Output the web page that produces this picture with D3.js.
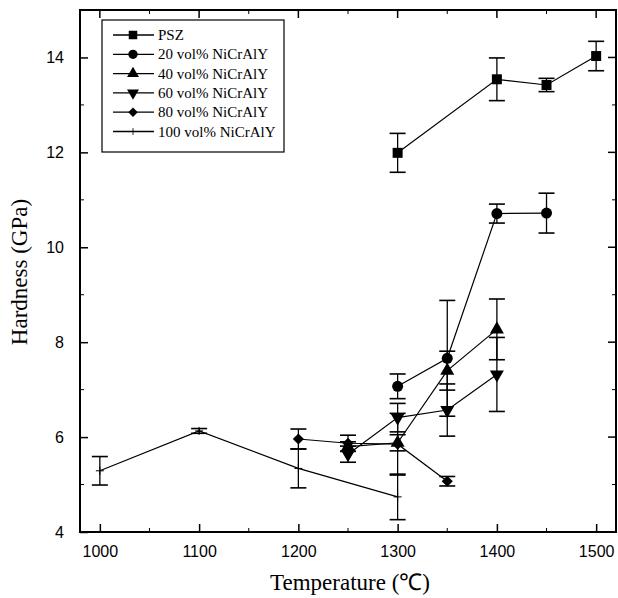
<!DOCTYPE html>
<html>
<head>
<meta charset="utf-8">
<script src="https://cdn.jsdelivr.net/npm/d3@7/dist/d3.min.js"></script>
<style>
  body { margin: 0; background: #fff; }
  svg { display: block; }
</style>
</head>
<body>
<svg id="chart" width="618" height="598"></svg>
<script>
// hardness vs. temperature
const seriesNames = ['PSZ', '20 vol% NiCrAlY', '40 vol% NiCrAlY', '60 vol% NiCrAlY', '80 vol% NiCrAlY', '100 vol% NiCrAlY']
const seriesSymbols = ['square', 'circle', 'triangle', 'triangleDown', 'diamond', 'plus']

const pszTemp = [1300, 1400, 1450, 1500]
const pszHard = [11.99, 13.54, 13.42, 14.03]
const pszErr = [0.41, 0.45, 0.14, 0.31]

const vol20Temp = [1300, 1350, 1400, 1450]
const vol20Hard = [7.07, 7.66, 10.71, 10.72]
const vol20Err = [0.26, 1.22, 0.2, 0.42]

const vol40Temp = [1250, 1300, 1350, 1400]
const vol40Hard = [5.8, 5.88, 7.4, 8.27]
const vol40Err = [0.1, 0.17, 0.41, 0.64]

const vol60Temp = [1250, 1300, 1350, 1400]
const vol60Hard = [5.64, 6.41, 6.57, 7.32]
const vol60Err = [0.17, 0.3, 0.55, 0.78]

const vol80Temp = [1200, 1250, 1300, 1350]
const vol80Hard = [5.96, 5.87, 5.85, 5.07]
const vol80Err = [0.21, 0.17, 0.65, 0.1]

const vol100Temp = [1000, 1100, 1200, 1300]
const vol100Hard = [5.29, 6.13, 5.34, 4.74]
const vol100Err = [0.3, 0.05, 0.41, 0.48]

const xTicks = [1000, 1100, 1200, 1300, 1400, 1500]
const yTicks = [4, 6, 8, 10, 12, 14]

const build = (temp, hard, err) => temp.map((t, i) => ({ t, h: hard[i], e: err[i] }))
const series = [
  build(pszTemp, pszHard, pszErr),
  build(vol20Temp, vol20Hard, vol20Err),
  build(vol40Temp, vol40Hard, vol40Err),
  build(vol60Temp, vol60Hard, vol60Err),
  build(vol80Temp, vol80Hard, vol80Err),
  build(vol100Temp, vol100Hard, vol100Err)
]

const plot = { left: 80, right: 616, top: 10, bottom: 532 }

const x = d3.scaleLinear().domain([980, 1520]).range([plot.left, plot.right])
const y = d3.scaleLinear().domain([4, 15]).range([plot.bottom, plot.top])

const svg = d3.select('#chart')

// marker paths
const symbolPath = (kind) => {
  switch (kind) {
    case 'square': return d3.symbol(d3.symbolSquare, 100)()
    case 'circle': return d3.symbol(d3.symbolCircle, 95)()
    case 'triangle': return d3.symbol(d3.symbolTriangle, 85)()
    case 'triangleDown': return d3.symbol(d3.symbolTriangle, 85)()
    case 'diamond': return d3.symbol(d3.symbolSquare, 62)()
    default: return 'M -4 0 L 4 0 M 0 -4 L 0 4'
  }
}

const drawMarker = (g, kind) => {
  const p = g.append('path').attr('d', symbolPath(kind))
  if (kind === 'plus') {
    p.attr('fill', 'none').attr('stroke', '#000').attr('stroke-width', 1)
  } else {
    p.attr('fill', '#000')
  }
  if (kind === 'triangleDown') p.attr('transform', 'rotate(180)')
  if (kind === 'diamond') p.attr('transform', 'rotate(45) scale(1,1)')
}

// axes (ticks point inward on all four sides)
const xAxisBottom = d3.axisBottom(x).tickValues(xTicks).tickSize(-8).tickPadding(14).tickFormat(d3.format('d'))
const yAxisLeft = d3.axisLeft(y).tickValues(yTicks).tickSize(-8).tickPadding(16)

const gx = svg.append('g').attr('transform', `translate(0,${plot.bottom})`).call(xAxisBottom)
const gy = svg.append('g').attr('transform', `translate(${plot.left},0)`).call(yAxisLeft)

;[gx, gy].forEach((g) => {
  g.select('.domain').remove()
  g.selectAll('.tick line').attr('stroke', '#000').attr('stroke-width', 1.5)
  g.selectAll('.tick text')
    .attr('font-family', 'Liberation Sans, Arial, sans-serif')
    .attr('font-size', 16)
    .attr('fill', '#000')
})

const minorX = d3.range(1050, 1520, 100)
const minorY = d3.range(5, 15, 2)
const frame = svg.append('g').attr('stroke', '#000')

// top and right mirror ticks
frame.selectAll('.tx').data(xTicks).enter().append('line')
  .attr('x1', (d) => x(d)).attr('x2', (d) => x(d))
  .attr('y1', plot.top).attr('y2', plot.top + 8).attr('stroke-width', 1.5)
frame.selectAll('.ty').data(yTicks).enter().append('line')
  .attr('x1', plot.right).attr('x2', plot.right - 8)
  .attr('y1', (d) => y(d)).attr('y2', (d) => y(d)).attr('stroke-width', 1.5)

// minor ticks
minorX.forEach((d) => {
  frame.append('line').attr('x1', x(d)).attr('x2', x(d)).attr('y1', plot.bottom).attr('y2', plot.bottom - 4)
  frame.append('line').attr('x1', x(d)).attr('x2', x(d)).attr('y1', plot.top).attr('y2', plot.top + 4)
})
minorY.forEach((d) => {
  frame.append('line').attr('x1', plot.left).attr('x2', plot.left + 4).attr('y1', y(d)).attr('y2', y(d))
  frame.append('line').attr('x1', plot.right).attr('x2', plot.right - 4).attr('y1', y(d)).attr('y2', y(d))
})

frame.append('rect')
  .attr('x', plot.left).attr('y', plot.top)
  .attr('width', plot.right - plot.left).attr('height', plot.bottom - plot.top)
  .attr('fill', 'none').attr('stroke-width', 2)

// axis titles
svg.append('text')
  .attr('x', 350).attr('y', 590)
  .attr('text-anchor', 'middle')
  .attr('font-family', 'Liberation Serif, Times New Roman, serif')
  .attr('font-size', 23)
  .text('Temperature (℃)')

svg.append('text')
  .attr('transform', 'translate(27,272) rotate(-90)')
  .attr('text-anchor', 'middle')
  .attr('font-family', 'Liberation Serif, Times New Roman, serif')
  .attr('font-size', 23)
  .text('Hardness (GPa)')

// series lines
const line = d3.line().x((d) => x(d.t)).y((d) => y(d.h))
const data = svg.append('g')

series.forEach((pts) => {
  data.append('path')
    .datum(pts)
    .attr('d', line)
    .attr('fill', 'none')
    .attr('stroke', '#000')
    .attr('stroke-width', 1.2)
})

// error bars
series.forEach((pts) => {
  const eb = data.append('g').attr('stroke', '#000').attr('stroke-width', 1.3)
  pts.forEach((d) => {
    const cx = x(d.t)
    eb.append('line').attr('x1', cx).attr('x2', cx).attr('y1', y(d.h - d.e)).attr('y2', y(d.h + d.e))
    ;[d.h - d.e, d.h + d.e].forEach((v) => {
      eb.append('line').attr('x1', cx - 8).attr('x2', cx + 8).attr('y1', y(v)).attr('y2', y(v)).attr('stroke-width', 1.6)
    })
  })
})

// markers
series.forEach((pts, i) => {
  pts.forEach((d) => {
    const g = data.append('g').attr('transform', `translate(${x(d.t)},${y(d.h)})`)
    drawMarker(g, seriesSymbols[i])
  })
})

// legend
const legend = svg.append('g').attr('transform', 'translate(102,20)')
legend.append('rect')
  .attr('width', 182).attr('height', 132)
  .attr('fill', '#fff').attr('stroke', '#000').attr('stroke-width', 1.2)

seriesNames.forEach((name, i) => {
  const row = legend.append('g').attr('transform', `translate(0,${15 + i * 19.3})`)
  row.append('line').attr('x1', 11).attr('x2', 52).attr('y1', 0).attr('y2', 0)
    .attr('stroke', '#000').attr('stroke-width', 1.3)
  const m = row.append('g').attr('transform', 'translate(31,0) scale(0.85)')
  drawMarker(m, seriesSymbols[i])
  row.append('text')
    .attr('x', 56).attr('y', 5)
    .attr('font-family', 'Liberation Serif, Times New Roman, serif')
    .attr('font-size', 15)
    .text(name)
})
</script>
</body>
</html>
